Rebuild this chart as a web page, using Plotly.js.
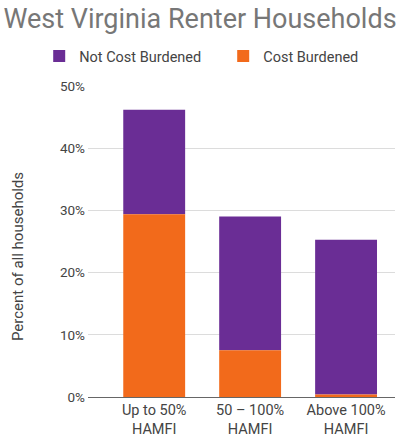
<!DOCTYPE html>
<html><head><meta charset="utf-8">
<script src="https://cdn.plot.ly/plotly-3.0.1.min.js"></script>
<style>html,body{margin:0;padding:0;background:#fff}#c{width:400px;height:438px}</style>
</head><body><div id="c"></div>
<script>
const categories = ["Up to 50%<br>HAMFI", "50 – 100%<br>HAMFI", "Above 100%<br>HAMFI"];
const costBurdened = [29.4, 7.5, 0.4];
const notCostBurdened = [16.8, 21.5, 24.9];
const yTickVals = [0, 10, 20, 30, 40, 50];
const yTickText = ["0%", "10%", "20%", "30%", "40%", "50%"];
const yTitle = "Percent of all households";

const traces = [
  {type: "bar", name: "Not Cost Burdened", x: categories, y: notCostBurdened, base: costBurdened, marker: {color: "#6a2d95"}, legend: "legend"},
  {type: "bar", name: "Cost Burdened", x: categories, y: costBurdened, marker: {color: "#f26a1b"}, legend: "legend2"}
];
const legendFont = {size: 14.5, color: "#444", family: "Roboto, sans-serif"};
const layout = {
  width: 400, height: 438,
  margin: {l: 88, r: 5, t: 86, b: 41},
  paper_bgcolor: "#fff", plot_bgcolor: "#fff",
  font: {family: "Roboto, sans-serif", color: "#555"},
  title: {text: "West Virginia Renter Households", font: {size: 27, color: "#777", family: "Roboto, sans-serif"}, x: 0.5, xanchor: "center", y: 0.98, yanchor: "top"},
  barmode: "overlay",
  bargap: 0.355,
  showlegend: true,
  legend: {orientation: "h", x: 0.098, xanchor: "left", xref: "container", y: 0.872, yanchor: "middle", yref: "container", font: legendFont},
  legend2: {orientation: "h", x: 0.558, xanchor: "left", xref: "container", y: 0.872, yanchor: "middle", yref: "container", font: legendFont},
  xaxis: {range: [-0.69, 2.51], tickfont: {size: 14.5, color: "#444"}, showline: true, linecolor: "#666", linewidth: 1, ticks: "", fixedrange: true},
  yaxis: {range: [0, 50], tickvals: yTickVals, ticktext: yTickText, tickfont: {size: 13.5, color: "#444"}, gridcolor: "#dcdcdc", zeroline: false, ticks: "", ticklabelstandoff: 2, automargin: false},
  annotations: [{text: yTitle, textangle: -90, xref: "paper", yref: "paper", x: -0.228, y: 0.45, xanchor: "center", yanchor: "middle", showarrow: false, font: {size: 15, color: "#444", family: "Roboto, sans-serif"}}]
};
Plotly.newPlot("c", traces, layout, {staticPlot: true});
</script></body></html>
